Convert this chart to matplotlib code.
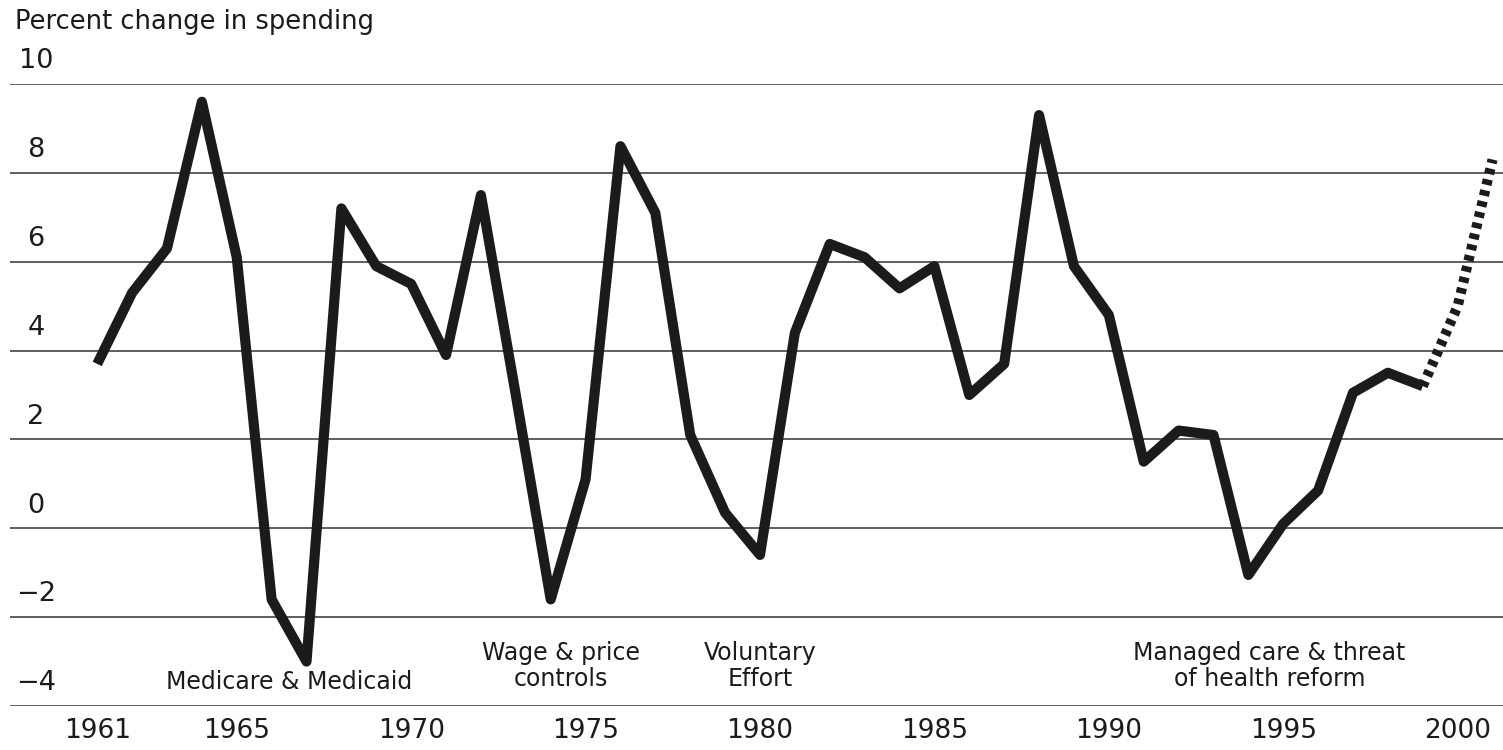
import matplotlib
matplotlib.use("Agg")
import matplotlib.pyplot as plt
import matplotlib.transforms as mtransforms

# yearly percent change (solid = actual, dotted = projection)
years = list(range(1961, 2000))
pct = [3.7, 5.3, 6.3, 9.6, 6.1, -1.6, -3.0, 7.2, 5.9, 5.5,
       3.9, 7.5, 3.0, -1.6, 1.1, 8.6, 7.1, 2.1, 0.35, -0.6,
       4.4, 6.4, 6.1, 5.4, 5.9, 3.0, 3.7, 9.3, 5.9, 4.8,
       1.5, 2.2, 2.1, -1.05, 0.1, 0.85, 3.05, 3.5, 3.2]
proj_years = [1999, 2000, 2001]
proj_pct = [3.2, 5.0, 8.3]

yticks = [10, 8, 6, 4, 2, 0, -2, -4]
xticks = [1961, 1965, 1970, 1975, 1980, 1985, 1990, 1995, 2000]

notes = [
    ("Medicare & Medicaid", 1966.5, -3.45),
    ("Wage & price\ncontrols", 1974.3, -3.1),
    ("Voluntary\nEffort", 1980.0, -3.1),
    ("Managed care & threat\nof health reform", 1994.6, -3.1),
]

ink = "#1c1a1a"
plt.rcParams['font.family'] = ['DejaVu Sans']

fig = plt.figure(figsize=(15.03, 7.5), dpi=100)
ax = fig.add_axes([10 / 1503, 1 - 706 / 750, 1 - 10 / 1503, (706 - 84) / 750])

ax.set_xlim(1958.5, 2001.3)
ax.set_ylim(-4, 10)

for v in yticks:
    ax.axhline(v, color="#333333", lw=1.1, zorder=1)

ax.plot(years, pct, color=ink, lw=7.3, solid_joinstyle="round",
        solid_capstyle="butt", zorder=3, clip_on=False)
ax.plot(proj_years, proj_pct, color=ink, lw=7.3,
        linestyle=(0, (0.55, 0.55)), dash_capstyle="butt", zorder=3, clip_on=False)

for s in ax.spines.values():
    s.set_visible(False)
ax.set_yticks([])
ax.set_xticks(xticks)
ax.set_xticklabels([str(x) for x in xticks], fontsize=19, color=ink)
ax.tick_params(axis="x", length=0, pad=9)

trans = mtransforms.blended_transform_factory(fig.transFigure, ax.transData)
for v in yticks:
    lab = str(v).replace("-", "\u2212")
    ax.text(36 / 1503, v + 0.22, lab, transform=trans, ha="center", va="bottom",
            fontsize=19.5, color=ink)

for txt, x, y in notes:
    ax.text(x, y, txt, ha="center", va="center", fontsize=17, color=ink,
            linespacing=1.1)

fig.text(15 / 1503, 1 - 22 / 750, "Percent change in spending", ha="left",
         va="center", fontsize=18.5, color=ink)

fig.savefig("out.png", dpi=100)
